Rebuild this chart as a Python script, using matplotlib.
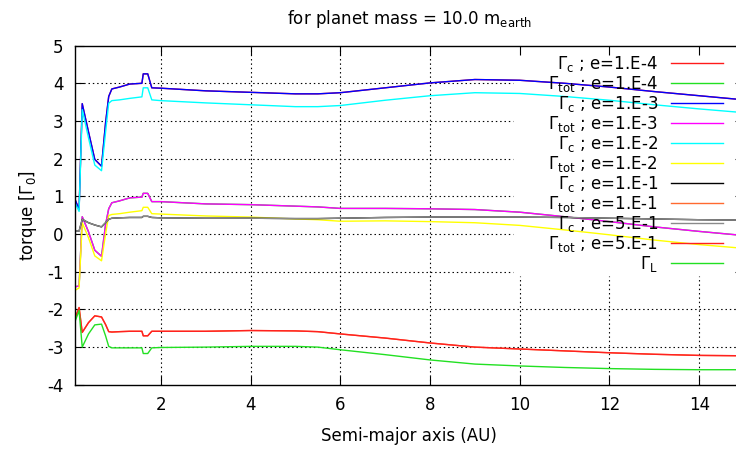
import matplotlib
matplotlib.use('Agg')
import matplotlib.pyplot as plt
from matplotlib.lines import Line2D

plt.rcParams['font.family'] = ['DejaVu Sans']
plt.rcParams['mathtext.default'] = 'regular'
plt.rcParams['axes.unicode_minus'] = False

# ---------------- data ----------------
a_au = [0.08, 0.18, 0.25, 0.39, 0.53, 0.68, 0.77, 0.84, 0.91, 1.08,
        1.31, 1.58, 1.61, 1.71, 1.80, 2.0, 3.0, 4.0, 5.0, 5.5,
        6.0, 7.0, 8.0, 9.0, 10.0, 11.0, 12.0, 13.0, 14.0, 15.0]

gc_e4 = [0.95, 0.65, 3.46, 2.71, 1.98, 1.80, 2.95, 3.65, 3.85, 3.90,
         3.98, 4.00, 4.25, 4.25, 3.88, 3.87, 3.80, 3.76, 3.72, 3.72,
         3.75, 3.88, 4.01, 4.10, 4.08, 4.00, 3.90, 3.78, 3.67, 3.56]
gtot_e4 = [-1.40, -1.38, 0.46, 0.06, -0.43, -0.59, 0.25, 0.67, 0.83, 0.88,
           0.96, 0.98, 1.08, 1.08, 0.86, 0.86, 0.80, 0.78, 0.74, 0.72,
           0.68, 0.68, 0.67, 0.65, 0.58, 0.46, 0.33, 0.19, 0.07, -0.04]
gc_e3 = [0.95, 0.65, 3.46, 2.71, 1.98, 1.80, 2.95, 3.65, 3.85, 3.90,
         3.98, 4.00, 4.25, 4.25, 3.88, 3.87, 3.80, 3.76, 3.72, 3.72,
         3.75, 3.88, 4.01, 4.10, 4.08, 4.00, 3.90, 3.78, 3.67, 3.56]
gtot_e3 = [-1.40, -1.38, 0.46, 0.06, -0.43, -0.59, 0.25, 0.67, 0.83, 0.88,
           0.96, 0.98, 1.08, 1.08, 0.86, 0.86, 0.80, 0.78, 0.74, 0.72,
           0.68, 0.68, 0.67, 0.65, 0.58, 0.46, 0.33, 0.19, 0.07, -0.04]
gc_e2 = [0.85, 0.60, 3.30, 2.55, 1.83, 1.68, 2.70, 3.47, 3.54, 3.56,
         3.60, 3.64, 3.88, 3.88, 3.56, 3.54, 3.48, 3.43, 3.38, 3.38,
         3.41, 3.55, 3.67, 3.75, 3.73, 3.65, 3.55, 3.43, 3.32, 3.22]
gtot_e2 = [-1.50, -1.43, 0.30, -0.10, -0.58, -0.71, 0.00, 0.49, 0.52, 0.54,
           0.58, 0.62, 0.71, 0.71, 0.54, 0.53, 0.48, 0.45, 0.40, 0.38,
           0.34, 0.35, 0.33, 0.30, 0.23, 0.11, -0.02, -0.16, -0.28, -0.38]
gc_e1 = [0.08, 0.08, 0.39, 0.30, 0.24, 0.19, 0.30, 0.39, 0.42, 0.43,
         0.44, 0.44, 0.47, 0.47, 0.44, 0.43, 0.42, 0.42, 0.41, 0.41,
         0.42, 0.44, 0.45, 0.45, 0.45, 0.44, 0.42, 0.40, 0.38, 0.37]
gtot_e1 = [-2.27, -1.95, -2.61, -2.35, -2.17, -2.20, -2.40, -2.59, -2.60, -2.59,
           -2.58, -2.58, -2.70, -2.70, -2.58, -2.58, -2.58, -2.56, -2.57, -2.59,
           -2.65, -2.76, -2.89, -3.00, -3.05, -3.10, -3.15, -3.19, -3.22, -3.23]
gc_e5 = [0.08, 0.08, 0.39, 0.30, 0.24, 0.19, 0.30, 0.39, 0.42, 0.43,
         0.44, 0.44, 0.47, 0.47, 0.44, 0.43, 0.42, 0.42, 0.41, 0.41,
         0.42, 0.44, 0.45, 0.45, 0.45, 0.44, 0.42, 0.40, 0.38, 0.37]
gtot_e5 = [-2.27, -1.95, -2.61, -2.35, -2.17, -2.20, -2.40, -2.59, -2.60, -2.59,
           -2.58, -2.58, -2.70, -2.70, -2.58, -2.58, -2.58, -2.56, -2.57, -2.59,
           -2.65, -2.76, -2.89, -3.00, -3.05, -3.10, -3.15, -3.19, -3.22, -3.23]
gamma_l = [-2.35, -2.03, -3.00, -2.65, -2.41, -2.39, -2.70, -2.98, -3.02, -3.02,
           -3.02, -3.02, -3.17, -3.17, -3.02, -3.01, -3.00, -2.98, -2.98, -3.00,
           -3.07, -3.20, -3.34, -3.45, -3.50, -3.54, -3.57, -3.59, -3.60, -3.60]

labels = [r'$\Gamma_{c}$ ; e=1.E-4', r'$\Gamma_{tot}$ ; e=1.E-4',
          r'$\Gamma_{c}$ ; e=1.E-3', r'$\Gamma_{tot}$ ; e=1.E-3',
          r'$\Gamma_{c}$ ; e=1.E-2', r'$\Gamma_{tot}$ ; e=1.E-2',
          r'$\Gamma_{c}$ ; e=1.E-1', r'$\Gamma_{tot}$ ; e=1.E-1',
          r'$\Gamma_{c}$ ; e=5.E-1', r'$\Gamma_{tot}$ ; e=5.E-1',
          r'$\Gamma_{L}$']
series = [gc_e4, gtot_e4, gc_e3, gtot_e3, gc_e2, gtot_e2,
          gc_e1, gtot_e1, gc_e5, gtot_e5, gamma_l]
colors = ['#ff1a1a', '#22e022', '#0000ff', '#ff00ff', '#00ffff', '#ffff00',
          '#000000', '#ff6a30', '#8a8a8a', '#ff2020', '#22e022']

x_ticks = [2, 4, 6, 8, 10, 12, 14]
y_ticks = [-4, -3, -2, -1, 0, 1, 2, 3, 4, 5]

FS = 12

# ---------------- layout ----------------
W, H = 736, 450
L_PX, R_PX, T_PX, B_PX = 74.6, 744.1, 45.6, 384.8
fig = plt.figure(figsize=(W / 100, H / 100), dpi=100)
ax = fig.add_axes([L_PX / W, 1 - B_PX / H, (R_PX - L_PX) / W, (B_PX - T_PX) / H])
ax.set_xlim(0.08, 15)
ax.set_ylim(-4, 5)
ax.set_xticks(x_ticks)
ax.set_yticks(y_ticks)
ax.tick_params(direction='in', length=6.5, width=0.8, top=True, right=True,
               labelsize=FS, pad=8)
ax.tick_params(axis='x', pad=8)
for sp in ax.spines.values():
    sp.set_linewidth(1.0)

# grid (gnuplot style, kept out of the key area)
key_left_frac = (513 - L_PX) / (R_PX - L_PX)
key_bottom_frac = (B_PX - 276) / (B_PX - T_PX)
gkw = dict(color='black', lw=0.8, linestyle=(0, (1.3, 2.6)), zorder=0.5)
x0, x1 = ax.get_xlim()
for yv in y_ticks[1:-1]:
    if yv >= -1:
        ax.axhline(yv, xmin=0, xmax=key_left_frac, **gkw)
    else:
        ax.axhline(yv, **gkw)
for xv in x_ticks:
    frac = (xv - x0) / (x1 - x0)
    if frac < key_left_frac:
        ax.axvline(xv, **gkw)
    else:
        ax.axvline(xv, ymin=0, ymax=key_bottom_frac, **gkw)

# curves
for ys, col in zip(series, colors):
    ax.plot(a_au, ys, color=col, lw=1.0, zorder=2)

# key (text on the left, sample on the right, like gnuplot)
for i, (lab, col) in enumerate(zip(labels, colors)):
    ly = 63.3 + 20 * i
    fig.add_artist(Line2D([670.7 / W, 722.7 / W], [1 - ly / H, 1 - ly / H],
                          color=col, lw=1.0, transform=fig.transFigure))
    fig.text(658 / W, 1 - (ly + 6.0) / H, lab, ha='right', va='baseline',
             fontsize=FS)

fig.text(409.4 / W, 1 - 24 / H, r'for planet mass = 10.0 m$_{earth}$',
         ha='center', va='baseline', fontsize=FS)
fig.text(409.4 / W, 1 - 436 / H, 'Semi-major axis (AU)', ha='center',
         va='center', fontsize=FS)
fig.text(28 / W, 1 - 215 / H, r'torque [$\Gamma_{0}$]', rotation=90,
         ha='center', va='center', fontsize=FS)

fig.savefig('out.png', dpi=100)
